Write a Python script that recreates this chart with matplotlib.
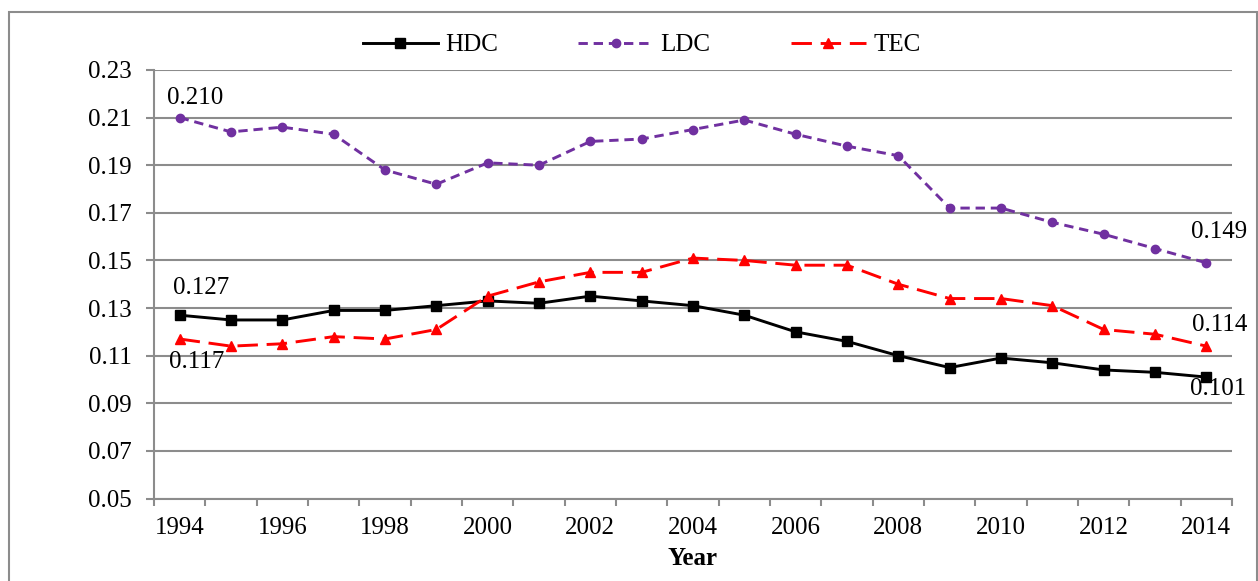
import matplotlib.pyplot as plt
import numpy as np
from matplotlib.patches import Rectangle

# Dados
anos = list(range(1994, 2015))
hdc = [0.127, 0.125, 0.125, 0.129, 0.129, 0.131, 0.133, 0.132, 0.135, 0.133, 0.131,
       0.127, 0.120, 0.116, 0.110, 0.105, 0.109, 0.107, 0.104, 0.103, 0.101]
ldc = [0.210, 0.204, 0.206, 0.203, 0.188, 0.182, 0.191, 0.190, 0.200, 0.201, 0.205,
       0.209, 0.203, 0.198, 0.194, 0.172, 0.172, 0.166, 0.161, 0.155, 0.149]
tec = [0.117, 0.114, 0.115, 0.118, 0.117, 0.121, 0.135, 0.141, 0.145, 0.145, 0.151,
       0.150, 0.148, 0.148, 0.140, 0.134, 0.134, 0.131, 0.121, 0.119, 0.114]
y_ticks = [0.05, 0.07, 0.09, 0.11, 0.13, 0.15, 0.17, 0.19, 0.21, 0.23]

plt.rcParams['font.family'] = ['Liberation Serif', 'DejaVu Serif']
cinza = '#8c8c8c'
fs = 18

fig = plt.figure(figsize=(12.58, 5.81), dpi=100)
ax = fig.add_axes([154/1258, 1 - 498.5/581, (1232 - 154)/1258, (498.5 - 70)/581])

x = np.arange(len(anos))
ax.plot(x, hdc, color='black', lw=2.1, marker='s', ms=7, label='HDC', zorder=3)
ax.plot(x, ldc, color='#7030A0', lw=2.1, marker='o', ms=6, dashes=(3.2, 2),
        label='LDC', zorder=3)
ax.plot(x, tec, color='#FF0000', lw=2.1, marker='^', ms=7, dashes=(7, 3),
        label='TEC', zorder=3)

ax.set_xlim(-0.5, len(anos) - 0.5)
ax.set_ylim(0.05, 0.23)
ax.set_yticks(y_ticks)
ax.set_yticklabels([f'{v:.2f}' for v in y_ticks])
ax.yaxis.grid(True, color=cinza, lw=1.5)
ax.set_axisbelow(True)

# marcas entre categorias, rótulos a cada 2 anos
ax.set_xticks(np.arange(-0.5, len(anos), 1))
ax.set_xticklabels([])
ax.set_xticks(x[::2], minor=True)
ax.set_xticklabels([str(a) for a in anos[::2]], minor=True)
ax.tick_params(axis='x', which='major', length=5, width=1.5, color=cinza)
ax.tick_params(axis='x', which='minor', length=0, pad=13, labelsize=fs)
ax.tick_params(axis='y', length=6, width=1.5, color=cinza, pad=10, labelsize=fs)

for s in ['top', 'right']:
    ax.spines[s].set_visible(False)
for s in ['left', 'bottom']:
    ax.spines[s].set_color(cinza)
    ax.spines[s].set_linewidth(1.5)

ax.set_xlabel('Year', fontsize=fs, fontweight='bold', labelpad=6)

# rótulos de dados
rotulos = [
    (0, ldc[0], 15, 20),
    (0, hdc[0], 21, 27),
    (0, tec[0], 17, -23),
    (20, ldc[-1], 13, 31),
    (20, tec[-1], 13, 21),
    (20, hdc[-1], 12, -12),
]
for xi, v, dx, dy in rotulos:
    ax.annotate(f'{v:.3f}', (xi, v), xytext=(dx, dy), textcoords='offset pixels',
                ha='center', va='center', fontsize=fs)

fig.legend(loc='center', bbox_to_anchor=(0.510, 1 - 45/581), ncol=3, frameon=False,
           fontsize=fs, handlelength=3.0, columnspacing=3.2, handletextpad=0.3)

# moldura externa
fig.patches.append(Rectangle((9/1258, -0.05), (1256.5 - 9)/1258, 1.05 - 12/581,
                             transform=fig.transFigure, fill=False,
                             edgecolor=cinza, lw=1.5))

plt.savefig('out.png', dpi=100)
